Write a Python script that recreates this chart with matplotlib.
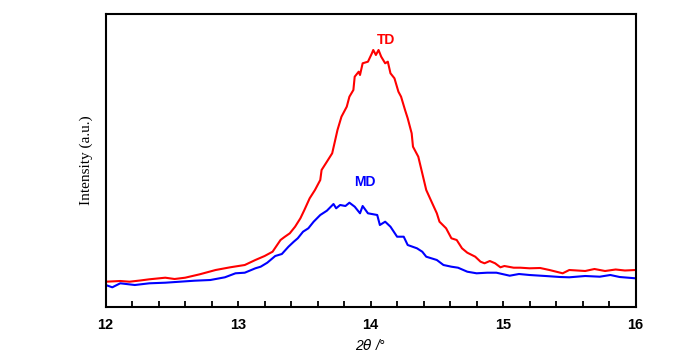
import matplotlib
matplotlib.use("Agg")
import matplotlib.pyplot as plt
from matplotlib.ticker import MultipleLocator, NullLocator

# 2theta (deg) and intensity (a.u.)
td_x = [12.00, 12.11, 12.18, 12.26, 12.33, 12.45, 12.52, 12.60, 12.71, 12.83,
        12.94, 13.05, 13.13, 13.20, 13.26, 13.32, 13.35, 13.39, 13.43, 13.47,
        13.50, 13.54, 13.58, 13.62, 13.63, 13.67, 13.71, 13.73, 13.75, 13.78,
        13.82, 13.84, 13.87, 13.88, 13.91, 13.92, 13.94, 13.98, 14.01, 14.02,
        14.04, 14.06, 14.08, 14.11, 14.13, 14.15, 14.18, 14.21, 14.23, 14.26,
        14.28, 14.31, 14.32, 14.36, 14.39, 14.42, 14.46, 14.50, 14.52, 14.57,
        14.61, 14.65, 14.69, 14.73, 14.79, 14.83, 14.86, 14.90, 14.94, 14.98,
        15.01, 15.08, 15.13, 15.20, 15.28, 15.35, 15.45, 15.50, 15.62, 15.69,
        15.77, 15.85, 15.92, 16.00]
td_y = [25.3, 26.0, 25.3, 26.5, 27.7, 29.3, 28.0, 29.3, 32.7, 37.0,
        39.7, 42.0, 47.0, 51.0, 55.3, 67.0, 70.0, 73.7, 80.3, 88.7,
        97.0, 108.7, 117.0, 127.0, 137.0, 145.3, 153.7, 165.3, 177.0, 190.3,
        200.3, 210.3, 217.0, 230.3, 235.3, 232.0, 243.7, 245.3, 253.7, 257.0,
        252.0, 257.0, 250.3, 243.7, 245.3, 233.7, 228.7, 215.3, 210.3, 197.0,
        188.7, 173.7, 160.3, 150.3, 133.7, 117.0, 105.3, 93.7, 85.3, 78.7,
        68.7, 67.0, 58.7, 54.3, 50.3, 45.3, 43.7, 46.0, 43.7, 39.7,
        41.0, 39.3, 39.3, 38.7, 39.0, 37.0, 33.7, 37.0, 36.0, 38.0,
        36.0, 37.5, 36.5, 37.0]

md_x = [12.00, 12.05, 12.11, 12.22, 12.33, 12.45, 12.56, 12.67, 12.79, 12.90,
        12.98, 13.05, 13.13, 13.17, 13.22, 13.28, 13.33, 13.38, 13.42, 13.45,
        13.49, 13.53, 13.57, 13.62, 13.67, 13.72, 13.74, 13.77, 13.81, 13.84,
        13.88, 13.92, 13.94, 13.98, 14.05, 14.07, 14.11, 14.15, 14.20, 14.25,
        14.28, 14.35, 14.39, 14.42, 14.50, 14.55, 14.61, 14.66, 14.73, 14.80,
        14.88, 14.95, 15.05, 15.12, 15.20, 15.32, 15.43, 15.50, 15.62, 15.73,
        15.81, 15.88, 16.00]
md_y = [22.0, 19.7, 23.7, 22.0, 23.7, 24.3, 25.3, 26.3, 27.0, 29.7,
        33.7, 34.3, 38.7, 40.3, 44.3, 51.0, 53.0, 60.3, 65.3, 68.7,
        75.3, 78.7, 85.3, 92.0, 96.3, 103.0, 98.7, 102.0, 101.0, 104.3,
        100.3, 93.7, 101.0, 93.7, 92.0, 82.0, 85.3, 80.3, 70.3, 70.3,
        62.0, 58.7, 55.3, 50.3, 47.0, 42.0, 40.3, 39.3, 35.3, 33.7,
        34.3, 34.3, 31.3, 33.0, 32.0, 31.0, 30.0, 29.7, 31.0, 30.3,
        32.0, 30.0, 28.7]

x_ticks = [12, 13, 14, 15, 16]
x_tick_labels = ["12", "13", "14", "15", "16"]

fig = plt.figure(figsize=(6.8, 3.55), dpi=100)
ax = fig.add_axes([0.1554, 0.1352, 0.7792, 0.8254])

ax.plot(td_x, td_y, color="#ff0000", lw=1.5)
ax.plot(md_x, md_y, color="#0000ff", lw=1.5)

ax.set_xlim(12, 16)
ax.set_ylim(0, 293)

ax.set_xticks(x_ticks)
ax.set_xticklabels(x_tick_labels, fontfamily="Liberation Sans", fontsize=10.5,
                   fontweight="bold")
ax.xaxis.set_minor_locator(MultipleLocator(0.2))
ax.yaxis.set_major_locator(NullLocator())
ax.tick_params(axis="x", which="both", direction="in", length=4, width=1.3,
               top=False, pad=8)

for s in ax.spines.values():
    s.set_linewidth(1.5)

ax.text(14.12, 267, "TD", color="#ff0000", fontsize=10, fontweight="bold",
        fontfamily="Liberation Sans", ha="center", va="center")
ax.text(13.96, 125, "MD", color="#0000ff", fontsize=10, fontweight="bold",
        fontfamily="Liberation Sans", ha="center", va="center")

ax.set_xlabel(r"2$\theta$ /°", fontsize=10, fontstyle="italic",
              fontfamily="Liberation Sans", labelpad=4)
ax.set_ylabel("Intensity (a.u.)", fontsize=11, fontfamily="Liberation Serif",
              labelpad=9)

fig.savefig("out.png", dpi=100)
